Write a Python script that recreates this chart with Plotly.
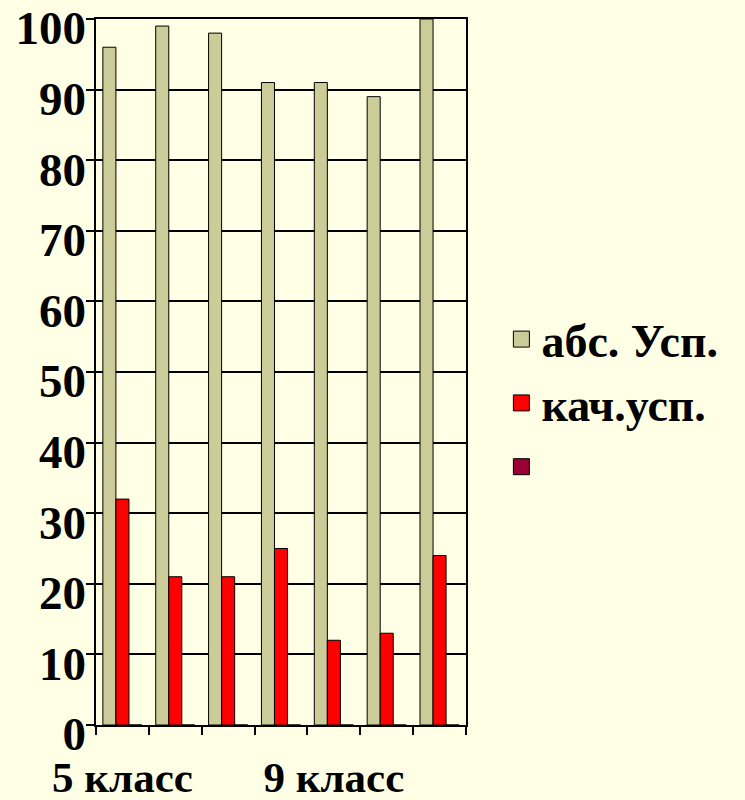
import plotly.graph_objects as go

categories = ["5 класс", "6 класс", "7 класс", "8 класс", "9 класс", "10 класс", "11 класс"]
tick_labels = ["5 класс", "", "", "", "9 класс", "", ""]
y_ticks = [0, 10, 20, 30, 40, 50, 60, 70, 80, 90, 100]
abs_usp = [96, 99, 98, 91, 91, 89, 100]
kach_usp = [32, 21, 21, 25, 12, 13, 24]
third = [0, 0, 0, 0, 0, 0, 0]
series_names = ["абс. Усп.", "кач.усп.", " "]
colors = ["#CCCC99", "#FF0000", "#990033"]

BG = "#FFFFE5"
FONT = "Liberation Serif"

fig = go.Figure()
for i, (name, vals) in enumerate(zip(series_names, [abs_usp, kach_usp, third])):
    fig.add_trace(go.Bar(
        x=categories, y=vals, name=name, showlegend=False,
        marker=dict(color=colors[i], line=dict(color="black", width=1)),
    ))
    fig.add_trace(go.Scatter(
        x=[None], y=[None], mode="markers", name=name, legendgroup=f"g{i}",
        marker=dict(symbol="square", size=16, color=colors[i],
                    line=dict(color="black", width=1)),
    ))
# carrier for the label axis (no visible marks)
fig.add_trace(go.Scatter(x=[None], y=[None], yaxis="y2", showlegend=False,
                         mode="markers", hoverinfo="skip"))

H = 800
T, B = 10, 60
plot_top, plot_bottom = 19, 725
label_shift = 9
paper_h = H - T - B
d0 = (H - B - plot_bottom) / paper_h
d1 = (H - B - plot_top) / paper_h
s = label_shift / paper_h

fig.update_layout(
    width=745, height=H,
    paper_bgcolor=BG, plot_bgcolor="rgba(0,0,0,0)",
    margin=dict(l=96, r=279, t=T, b=B, autoexpand=False),
    barmode="group", bargap=0.26, bargroupgap=0,
    font=dict(family=FONT, color="black"),
    showlegend=True,
    legend=dict(
        xref="container", yref="container", x=0.673, y=0.496,
        xanchor="left", yanchor="middle",
        font=dict(size=46, family=FONT, color="black", weight="bold"),
        bgcolor="rgba(0,0,0,0)", traceorder="grouped", tracegroupgap=1,
    ),
)
fig.update_xaxes(
    type="category", tickvals=categories, ticktext=tick_labels,
    tickson="boundaries", ticks="outside", ticklen=8, tickwidth=1.5, tickcolor="black",
    showline=True, linecolor="black", linewidth=1.5, mirror=True,
    showgrid=False, tickangle=0, automargin=False, ticklabeloverflow="allow",
    tickfont=dict(size=43, family=FONT, color="black", weight="bold"),
    ticklabelstandoff=14,
)
fig.update_layout(
    yaxis=dict(
        domain=[d0, d1], range=[0, 100], tickvals=y_ticks,
        ticks="outside", ticklen=8, tickwidth=1.5, tickcolor="black",
        showticklabels=False,
        showline=True, linecolor="black", linewidth=1.5, mirror=True,
        showgrid=True, gridcolor="black", gridwidth=1.5, zeroline=False,
        automargin=False,
    ),
    yaxis2=dict(
        domain=[d0 - s, d1 - s], range=[0, 100], tickvals=y_ticks,
        anchor="free", position=0, side="left",
        ticks="", showline=False, showgrid=False, zeroline=False,
        automargin=False, ticklabeloverflow="allow", ticklabelstandoff=10,
        tickfont=dict(size=47, family=FONT, color="black", weight="bold"),
    ),
)

fig.write_html(
    "out.html",
    config={"displayModeBar": False},
    post_script="document.body.style.margin='0';document.body.style.background='#FFFFE5';",
)
